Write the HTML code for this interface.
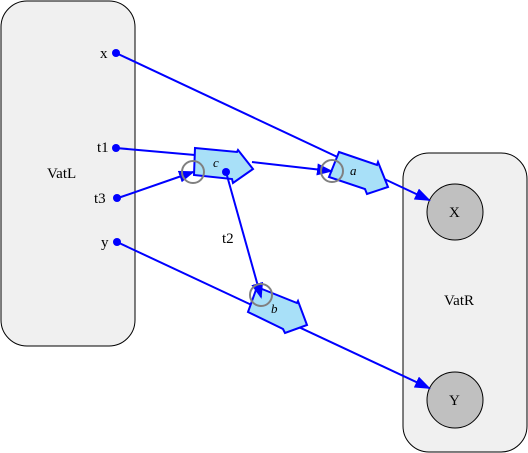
<!DOCTYPE html>
<html><head><style>body{margin:0;background:#fff}svg{display:block}text{font-family:"Liberation Serif",serif;font-size:15px;fill:#000}</style></head><body>
<svg width="528" height="453" viewBox="0 0 528 453">
<defs><marker id="ah2" markerWidth="16" markerHeight="12" refX="14" refY="6" orient="auto" markerUnits="userSpaceOnUse"><path d="M0,0 L16,6 L0,12 z" fill="#0000ff"/></marker></defs>
<rect x="1" y="1" width="134" height="345" rx="26" fill="#f0f0f0" stroke="#000"/>
<rect x="403" y="153" width="124" height="299" rx="26" fill="#f0f0f0" stroke="#000"/>
<circle cx="455" cy="212" r="28" fill="#c0c0c0" stroke="#000"/>
<circle cx="455" cy="400" r="28" fill="#c0c0c0" stroke="#000"/>
<text x="47" y="178">VatL</text><text x="444" y="305">VatR</text>
<text x="449" y="217">X</text><text x="449" y="405">Y</text>
<text x="100" y="58">x</text><text x="97" y="152">t1</text><text x="94" y="203">t3</text><text x="101" y="247">y</text>
<text x="222" y="243">t2</text>
<g stroke="#0000ff" stroke-width="2" fill="none">
<line x1="116" y1="53" x2="429" y2="200" marker-end="url(#ah2)"/>
<line x1="117" y1="242" x2="429" y2="388" marker-end="url(#ah2)"/>
</g>
<g fill="#a8e0f8" stroke="#0000ff" stroke-width="2">
<polygon points="195,148 237,152 238,150 253,169 233,183 232,179 194,175"/>
<polygon points="339,152 377,165 378,162 388,187 367,194 365,189 329,177"/>
<polygon points="257,287 297,303 298,301 307,325 285,333 283,329 248,312"/>
</g>
<g stroke="#0000ff" stroke-width="2" fill="none">
<line x1="116" y1="148" x2="195" y2="155"/>
<line x1="118" y1="198" x2="193" y2="172" marker-end="url(#ah2)"/>
<line x1="252" y1="162" x2="331" y2="171" marker-end="url(#ah2)"/>
<line x1="226" y1="172" x2="261" y2="297" marker-end="url(#ah2)"/>
</g>
<g fill="#0000ff"><circle cx="116" cy="53" r="4"/><circle cx="116" cy="148" r="4"/><circle cx="117" cy="198" r="4"/><circle cx="117" cy="242" r="4"/><circle cx="226" cy="172" r="4"/></g>
<g fill="none" stroke="#808080" stroke-width="2"><circle cx="193" cy="172" r="11"/><circle cx="332" cy="171" r="11"/><circle cx="261" cy="295" r="11"/></g>
<text x="213" y="167" style="font-size:13px;font-style:italic">c</text>
<text x="350" y="175" style="font-size:13px;font-style:italic">a</text>
<text x="271" y="313" style="font-size:13px;font-style:italic">b</text>
</svg></body></html>
